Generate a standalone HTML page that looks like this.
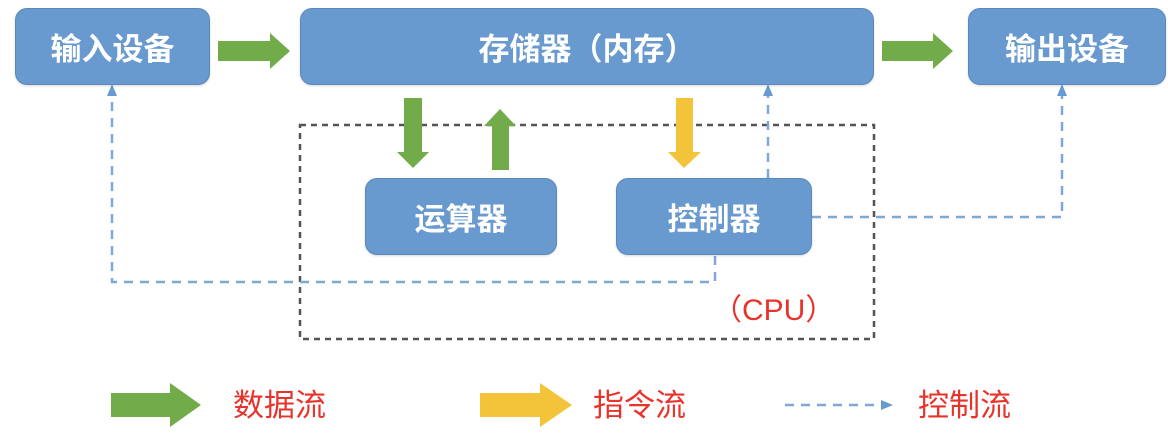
<!DOCTYPE html>
<html><head><meta charset="utf-8"><style>
html,body{margin:0;padding:0;background:#fff;}
body{width:1168px;height:436px;position:relative;overflow:hidden;font-family:"Liberation Sans","Noto Sans CJK SC",sans-serif;}
.box{position:absolute;background:#6899cf;border:1px solid #5a88bd;border-radius:12px;color:#fff;font-weight:bold;font-size:31px;display:flex;align-items:center;justify-content:center;box-sizing:border-box;box-shadow:0 1px 2px rgba(0,0,0,.15);}
.lbl{position:absolute;color:#e8332b;font-size:31px;line-height:1;}
svg{position:absolute;left:0;top:0;}
</style></head><body>
<svg width="1168" height="436">
<defs>
<marker id="ah" markerWidth="8" markerHeight="8" refX="4" refY="4" orient="auto" markerUnits="userSpaceOnUse"><path d="M0,0 L8,4 L0,8 z" fill="#6899cf"/></marker>
</defs>
<!-- CPU dashed box -->
<rect x="300" y="125" width="574" height="214" fill="none" stroke="#555" stroke-width="2.5" stroke-dasharray="6,5"/>
<!-- control lines -->
<g fill="none" stroke="#7ea8d8" stroke-width="2.5" stroke-dasharray="9,7">
<path d="M715 256 V282 H112 V94"/>
<path d="M768 178 V94"/>
<path d="M812 217 H1062 V94"/>
<path d="M785 405 H880"/>
</g>
<g fill="#6899cf">
<path d="M112 84 L107 96 L117 96 z"/>
<path d="M768 84 L763 96 L773 96 z"/>
<path d="M1062 84 L1057 96 L1067 96 z"/>
<path d="M893 405 L881 400 L881 410 z"/>
</g>
<!-- green arrows -->
<g fill="#72ab4a">
<path d="M218 41 H270 V33 L290 51 L270 69 V61 H218 z"/>
<path d="M882 41 H933 V33 L953 51 L933 69 V61 H882 z"/>
<path d="M404 98 H422 V152 H429 L413 168 L397 152 H404 z"/>
<path d="M492 170 H509 V126 H516 L500 109 L484 126 H492 z"/>
<path d="M111 393 H170 V383 L201 405 L170 427 V417 H111 z"/>
</g>
<g fill="#f3c43a">
<path d="M676 98 H693 V152 H701 L684 168 L668 152 H676 z"/>
<path d="M480 393 H540 V383 L572 405 L540 427 V417 H480 z"/>
</g>
</svg>
<div class="box" style="left:15px;top:8px;width:195px;height:77px;">输入设备</div>
<div class="box" style="left:300px;top:8px;width:574px;height:77px;">存储器（内存）</div>
<div class="box" style="left:968px;top:8px;width:198px;height:77px;">输出设备</div>
<div class="box" style="left:365px;top:178px;width:192px;height:77px;">运算器</div>
<div class="box" style="left:616px;top:178px;width:196px;height:77px;">控制器</div>
<div class="lbl" style="left:712px;top:296px;font-size:30px;">（CPU）</div>
<div class="lbl" style="left:233px;top:390px;">数据流</div>
<div class="lbl" style="left:593px;top:390px;">指令流</div>
<div class="lbl" style="left:918px;top:390px;">控制流</div>
</body></html>
